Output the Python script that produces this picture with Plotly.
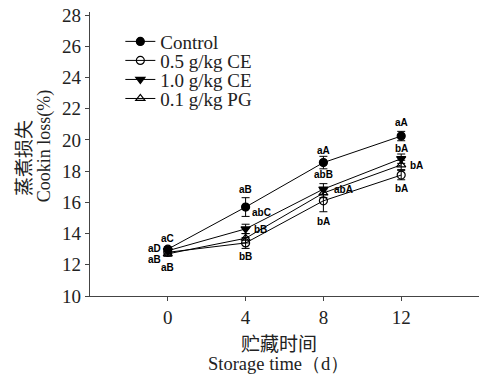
import plotly.graph_objects as go

days = [0, 4, 8, 12]
series_names = ["Control", "0.5 g/kg CE", "1.0 g/kg CE", "0.1 g/kg PG"]
control = [13.0, 15.7, 18.55, 20.25]
control_err = [0.15, 0.6, 0.4, 0.3]
ce05 = [12.8, 13.4, 16.1, 17.75]
ce05_err = [0.15, 0.35, 0.7, 0.3]
ce10 = [12.9, 14.3, 16.85, 18.8]
ce10_err = [0.15, 0.3, 0.35, 0.3]
pg01 = [12.7, 13.7, 16.6, 18.4]
pg01_err = [0.15, 0.3, 0.3, 0.3]

label_text = ["aC", "aD", "aB", "aB",
              "aB", "abC", "bB", "bB",
              "aA", "abB", "abA", "bA",
              "aA", "bA", "bA", "bA"]
label_x = [0, -0.7, -0.7, 0,
           4, 4.8, 4.75, 4,
           8, 8, 9.05, 8,
           12, 12, 12.8, 12]
label_y = [13.7, 13.03, 12.35, 11.82,
           16.84, 15.34, 14.27, 12.52,
           19.35, 17.8, 16.84, 14.8,
           21.1, 19.46, 18.39, 16.9]

values = [control, ce05, ce10, pg01]
errors = [control_err, ce05_err, ce10_err, pg01_err]
symbols = ["circle", "circle-open", "triangle-down", "triangle-up-open"]

serif = "Liberation Serif, Times New Roman, serif"
cjk = "Noto Sans CJK SC"

fig = go.Figure()
legend_ids = ["legend", "legend2", "legend3", "legend4"]
for name, v, e, s, lg in zip(series_names, values, errors, symbols, legend_ids):
    fig.add_trace(go.Scatter(
        x=days, y=v, name=name, mode="lines+markers", legend=lg,
        line=dict(color="black", width=1),
        marker=dict(symbol=s, size=8, color="black", line=dict(color="black", width=1.2)),
        error_y=dict(type="data", array=e, visible=True, color="black", thickness=1, width=4),
    ))

for t, x, y in zip(label_text, label_x, label_y):
    fig.add_annotation(x=x, y=y, text="<b>" + t + "</b>", showarrow=False,
                       font=dict(family="Liberation Sans, Arial", size=10, color="black"))

# axis titles
fig.add_annotation(xref="paper", yref="paper", x=-0.172, y=0.486, xanchor="center", yanchor="middle",
                   text="蒸煮损失", textangle=-90, showarrow=False,
                   font=dict(family=cjk, size=19, color="#222"))
fig.add_annotation(xref="paper", yref="paper", x=-0.118, y=0.528, xanchor="center", yanchor="middle",
                   text="Cookin loss(%)", textangle=-90, showarrow=False,
                   font=dict(family=serif, size=18, color="#222"))
fig.add_annotation(xref="paper", yref="paper", x=0.485, y=-0.165, xanchor="center", yanchor="middle",
                   text="贮藏时间", showarrow=False,
                   font=dict(family=cjk, size=19, color="#222"))
fig.add_annotation(xref="paper", yref="paper", x=0.485, y=-0.24, xanchor="center", yanchor="middle",
                   text="Storage time（d）", showarrow=False,
                   font=dict(family=serif, size=18.5, color="#222"))

leg_common = dict(xanchor="left", yanchor="middle", bgcolor="rgba(0,0,0,0)",
                  font=dict(family=serif, size=19, color="#222"), itemwidth=30)
leg_y = [0.896, 0.829, 0.762, 0.695]
layout_legends = {}
for lg, yy in zip(legend_ids, leg_y):
    layout_legends[lg] = dict(x=0.078, y=yy, **leg_common)

fig.update_layout(
    width=484, height=379,
    margin=dict(l=90, r=5, t=12, b=83, autoexpand=False),
    paper_bgcolor="white", plot_bgcolor="white",
    font=dict(family=serif, color="#222"),
    showlegend=True,
    **layout_legends,
    xaxis=dict(range=[-4, 16], tickvals=days, showline=True, linecolor="#444", linewidth=1.2,
               ticks="outside", ticklen=4, tickcolor="#444", showgrid=False, zeroline=False,
               automargin=False, tickfont=dict(family=serif, size=19, color="#222")),
    yaxis=dict(range=[10, 28.2], tickvals=list(range(10, 29, 2)), showline=True, linecolor="#444",
               linewidth=1.2, ticks="outside", ticklen=4, tickcolor="#444", showgrid=False,
               zeroline=False, automargin=False, tickfont=dict(family=serif, size=19, color="#222")),
)

fig.write_html("out.html", config={"displayModeBar": False},
               post_script="document.body.style.margin='0';")
